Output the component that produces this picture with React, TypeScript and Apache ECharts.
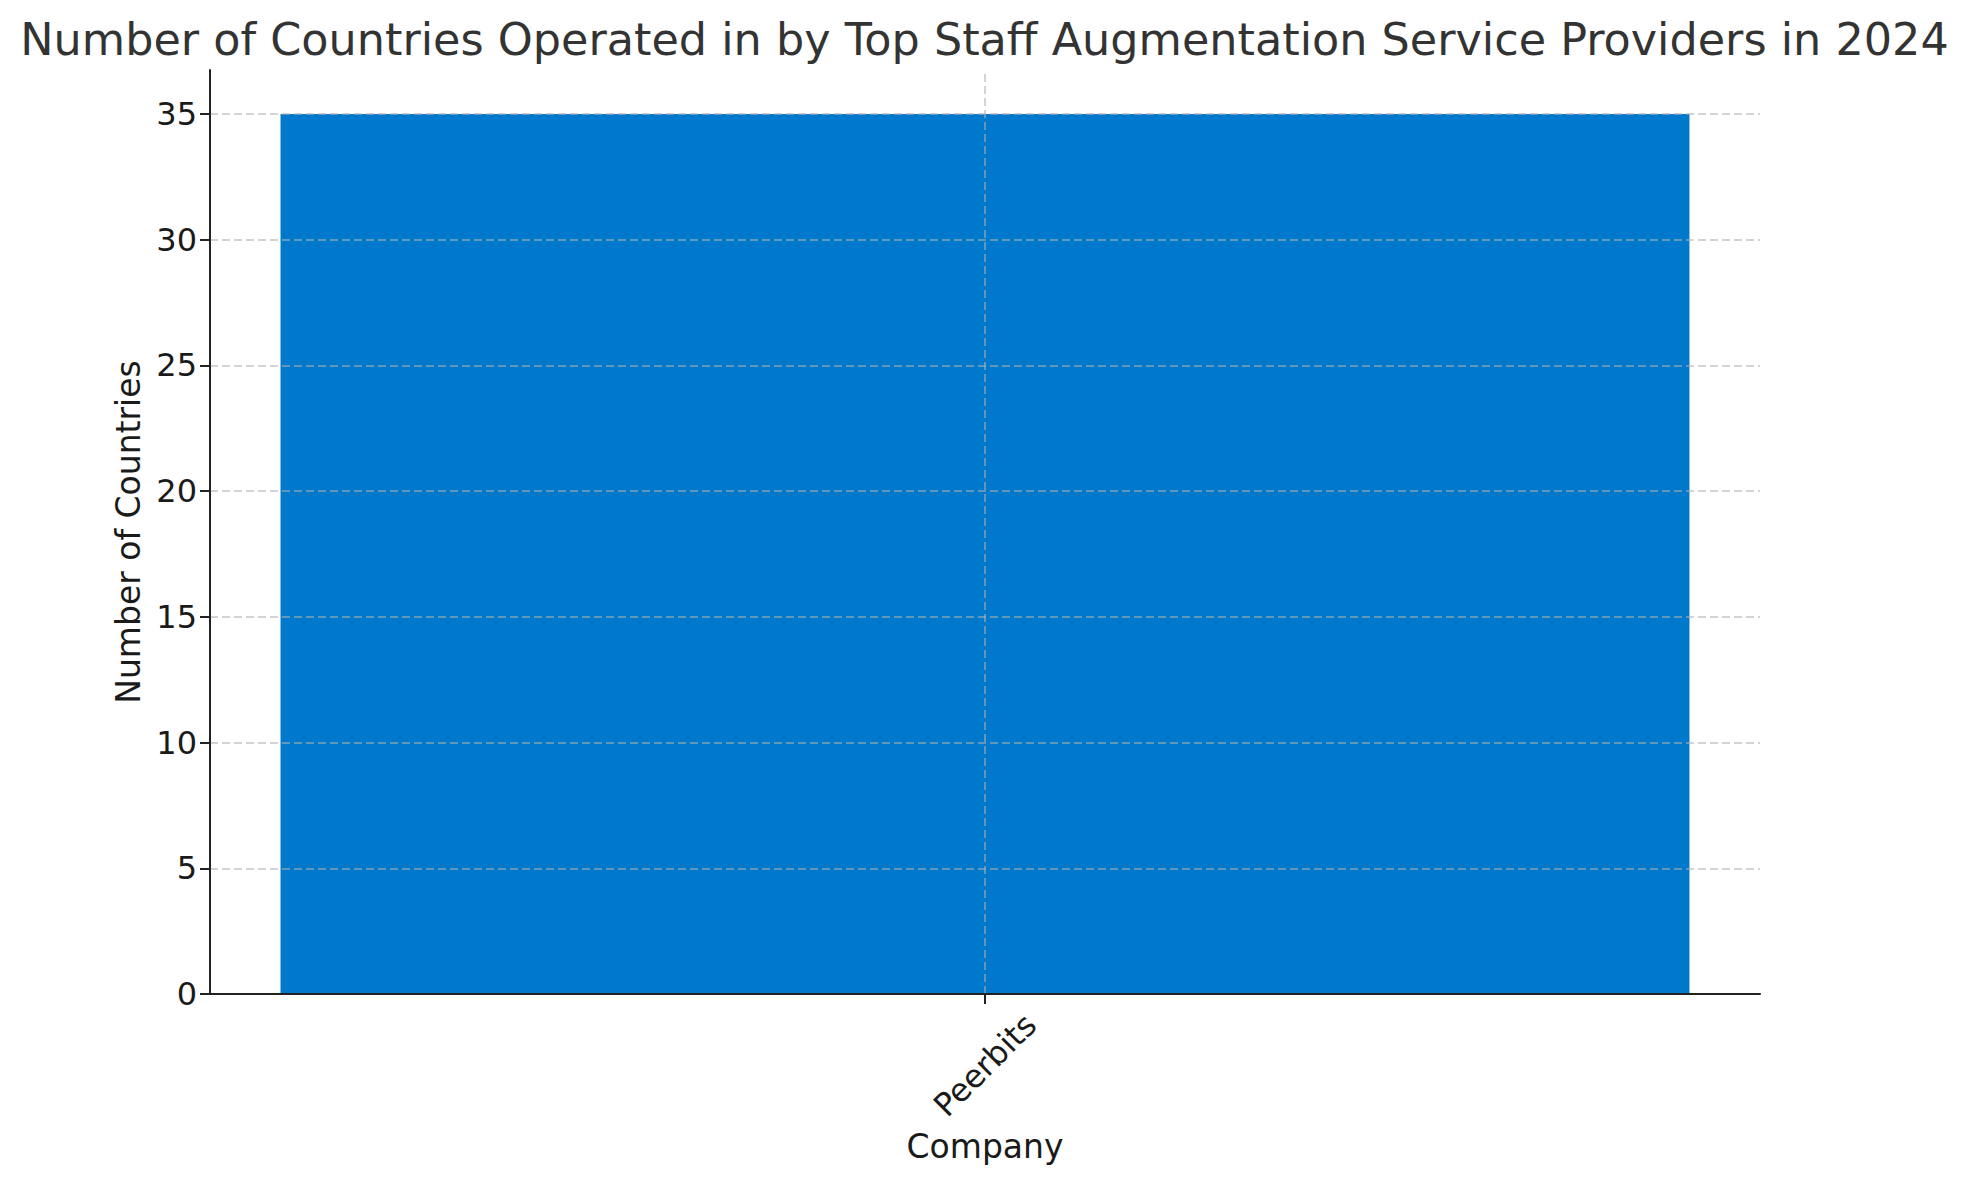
import React, { useEffect, useRef } from 'react';
import * as echarts from 'echarts';

// chart data
const companies = ['Peerbits'];
const countries = [35];
const yTicks = [0, 5, 10, 15, 20, 25, 30, 35];

const FONT = 'DejaVu Sans';

const App: React.FC = () => {
  const chartRef = useRef<HTMLDivElement>(null);

  useEffect(() => {
    if (!chartRef.current) return;
    const chart = echarts.init(chartRef.current, null, { renderer: 'svg' });

    const gridLine = {
      color: 'rgba(176,176,176,0.75)',
      width: 1.5,
      type: [8, 4],
    };

    const option = {
      animation: false,
      backgroundColor: '#ffffff',
      title: {
        text: 'Number of Countries Operated in by Top Staff Augmentation Service Providers in 2024',
        left: 'center',
        top: 12,
        textStyle: { fontFamily: FONT, fontSize: 44.5, fontWeight: 'normal', color: '#333333' },
      },
      grid: { left: 210, right: 209, top: 70, bottom: 192 },
      xAxis: {
        type: 'category',
        data: companies,
        z: 6,
        name: 'Company',
        nameLocation: 'middle',
        nameGap: 136,
        nameTextStyle: { fontFamily: FONT, fontSize: 33, color: '#1a1a1a' },
        axisLine: { show: true, lineStyle: { color: '#222222', width: 2 } },
        axisTick: { show: true, alignWithLabel: true, length: 10, lineStyle: { color: '#222222', width: 2 } },
        axisLabel: {
          rotate: 45,
          align: 'center',
          verticalAlign: 'middle',
          margin: 71,
          fontFamily: FONT,
          fontSize: 32,
          color: '#1a1a1a',
        },
        splitLine: { show: false },
      },
      yAxis: {
        type: 'value',
        min: 0,
        max: 36.75,
        interval: 5,
        z: 6,
        name: 'Number of Countries',
        nameLocation: 'middle',
        nameGap: 64,
        nameTextStyle: { fontFamily: FONT, fontSize: 33, color: '#1a1a1a' },
        axisLine: { show: true, lineStyle: { color: '#222222', width: 2 } },
        axisTick: { show: true, length: 10, customValues: yTicks, lineStyle: { color: '#222222', width: 2 } },
        axisLabel: { customValues: yTicks, margin: 13, fontFamily: FONT, fontSize: 32, color: '#1a1a1a' },
        splitLine: { show: false },
      },
      series: [
        {
          type: 'bar',
          data: countries,
          barWidth: '90.9%',
          itemStyle: { color: '#0079cc' },
          markLine: {
            silent: true,
            symbol: 'none',
            z: 5,
            label: { show: false },
            lineStyle: gridLine,
            data: [
              ...yTicks.filter((v) => v > 0).map((v) => ({ yAxis: v })),
              ...companies.map((c) => ({ xAxis: c })),
            ],
          },
        },
      ],
    };

    chart.setOption(option);
    return () => {
      chart.dispose();
    };
  }, []);

  return (
    <div
      ref={chartRef}
      style={{ position: 'absolute', left: 0, top: 0, width: '1969px', height: '1186px' }}
    />
  );
};

export default App;
